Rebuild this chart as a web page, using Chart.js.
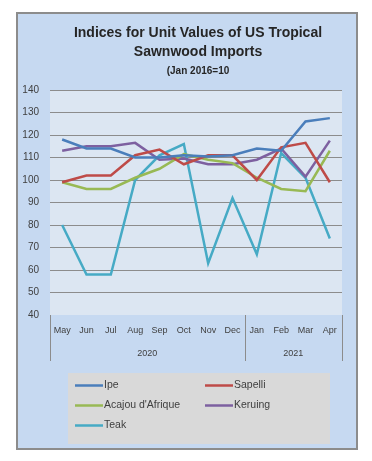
<!DOCTYPE html>
<html>
<head>
<meta charset="utf-8">
<script src="https://cdn.jsdelivr.net/npm/chart.js@4"></script>
<style>
  html, body { margin: 0; padding: 0; background: #ffffff; }
  #frame {
    position: absolute; left: 16px; top: 12px;
    width: 342px; height: 438px; box-sizing: border-box;
    border: 2px solid #8c8c8c; background: #c6d9f1;
  }
  #chart { display: block; }
</style>
</head>
<body>
<div id="frame"><canvas id="chart" width="338" height="434"></canvas></div>
<script>
// Chart data
const titleLines = ['Indices for Unit Values of US Tropical', 'Sawnwood Imports'];
const subtitleText = '(Jan 2016=10';
const months = ['May', 'Jun', 'Jul', 'Aug', 'Sep', 'Oct', 'Nov', 'Dec', 'Jan', 'Feb', 'Mar', 'Apr'];
const years = ['2020', '2021'];
const yearSpans = [8, 4];

const ipe = [118, 114, 114, 110, 110, 111, 110.5, 111, 114, 113, 126, 127.5];
const sapelli = [99, 102, 102, 111, 113.5, 107, 111, 111, 100, 114.5, 116.5, 99];
const acajou = [99, 96, 96, 101, 105, 111.5, 109, 107.5, 101, 96, 95, 113];
const keruing = [113, 115, 115, 116.5, 109, 109.5, 107, 107, 109, 114, 101.5, 117.5];
const teak = [80, 58, 58, 100, 111, 116, 63, 92, 67, 112, 101, 74];

const textColor = '#404040';
const fontFamily = '"Liberation Sans", Arial, sans-serif';

// Light plot-area background
const plotBackground = {
    id: 'plotBackground',
    beforeDraw(chart) {
        const { ctx, chartArea } = chart;
        ctx.save();
        ctx.fillStyle = '#dce6f2';
        ctx.fillRect(chartArea.left, chartArea.top, chartArea.right - chartArea.left, chartArea.bottom - chartArea.top);
        ctx.restore();
    }
};

// Title block (sits a little right of centre, like the original)
const titleBlock = {
    id: 'titleBlock',
    afterDraw(chart) {
        const { ctx } = chart;
        const cx = 180;
        ctx.save();
        ctx.fillStyle = '#262626';
        ctx.textAlign = 'center';
        ctx.textBaseline = 'middle';
        ctx.font = 'bold 14px ' + fontFamily;
        titleLines.forEach((line, i) => ctx.fillText(line, cx, 19 + i * 19.5));
        ctx.font = 'bold 10px ' + fontFamily;
        ctx.fillText(subtitleText, cx, 57.5);
        ctx.restore();
    }
};

// Year row under the month labels, with separators
const yearAxis = {
    id: 'yearAxis',
    afterDraw(chart) {
        const { ctx, chartArea } = chart;
        const x = chart.scales.x;
        const half = (x.getPixelForValue(1) - x.getPixelForValue(0)) / 2;
        ctx.save();
        ctx.strokeStyle = '#8c8c8c';
        ctx.lineWidth = 1;
        ctx.fillStyle = textColor;
        ctx.font = '9px ' + fontFamily;
        ctx.textAlign = 'center';
        ctx.textBaseline = 'middle';
        let start = 0;
        const edges = [x.getPixelForValue(0) - half];
        years.forEach((yr, i) => {
            const end = start + yearSpans[i] - 1;
            const left = x.getPixelForValue(start) - half;
            const right = x.getPixelForValue(end) + half;
            edges.push(right);
            ctx.fillText(yr, (left + right) / 2, chartArea.bottom + 39);
            start = end + 1;
        });
        edges.forEach(px => {
            const xx = Math.round(px) + 0.5;
            ctx.beginPath();
            ctx.moveTo(xx, chartArea.bottom);
            ctx.lineTo(xx, chartArea.bottom + 46);
            ctx.stroke();
        });
        ctx.restore();
    }
};

// Two-column legend box
const boxLegend = {
    id: 'boxLegend',
    afterDraw(chart) {
        const { ctx, chartArea } = chart;
        const left = 50, top = chartArea.bottom + 58;
        ctx.save();
        ctx.fillStyle = '#d9d9d9';
        ctx.fillRect(left, top, 262, 71);
        ctx.font = '10.5px ' + fontFamily;
        ctx.textBaseline = 'middle';
        chart.data.datasets.forEach((ds, i) => {
            const col = i % 2, row = Math.floor(i / 2);
            const x0 = left + 7 + col * 130;
            const y0 = top + 12.5 + row * 20;
            ctx.strokeStyle = ds.borderColor;
            ctx.lineWidth = 2.5;
            ctx.beginPath();
            ctx.moveTo(x0, y0);
            ctx.lineTo(x0 + 28, y0);
            ctx.stroke();
            ctx.fillStyle = textColor;
            ctx.fillText(ds.label, x0 + 29, y0);
        });
        ctx.restore();
    }
};

function series(label, data, color) {
    return {
        label: label,
        data: data,
        borderColor: color,
        backgroundColor: color,
        borderWidth: 2.5,
        pointRadius: 0,
        tension: 0
    };
}

const ctx = document.getElementById('chart').getContext('2d');
new Chart(ctx, {
    type: 'line',
    data: {
        labels: months,
        datasets: [
            series('Ipe', ipe, '#4a7ebb'),
            series('Sapelli', sapelli, '#be4b48'),
            series("Acajou d'Afrique", acajou, '#98b954'),
            series('Keruing', keruing, '#7d60a0'),
            series('Teak', teak, '#46aac5')
        ]
    },
    options: {
        responsive: false,
        animation: false,
        layout: { padding: { left: 0, right: 14, top: 76, bottom: 78 } },
        scales: {
            x: {
                offset: true,
                grid: { display: false, drawTicks: false },
                border: { display: false },
                ticks: {
                    color: textColor,
                    font: { family: fontFamily, size: 9 },
                    padding: 10,
                    maxRotation: 0,
                    autoSkip: false
                },
                afterFit(scale) { scale.height = 55; }
            },
            y: {
                min: 40,
                max: 140,
                ticks: {
                    stepSize: 10,
                    color: textColor,
                    font: { family: fontFamily, size: 10 },
                    padding: 11
                },
                grid: {
                    color: ctx => ctx.tick && ctx.tick.value === 40 ? 'rgba(0,0,0,0)' : '#8c8c8c',
                    lineWidth: 1,
                    drawTicks: false
                },
                border: { display: false },
                afterFit(scale) { scale.width = 32; }
            }
        },
        plugins: {
            legend: { display: false },
            tooltip: { enabled: false },
            title: { display: false }
        }
    },
    plugins: [plotBackground, titleBlock, yearAxis, boxLegend]
});
</script>
</body>
</html>
